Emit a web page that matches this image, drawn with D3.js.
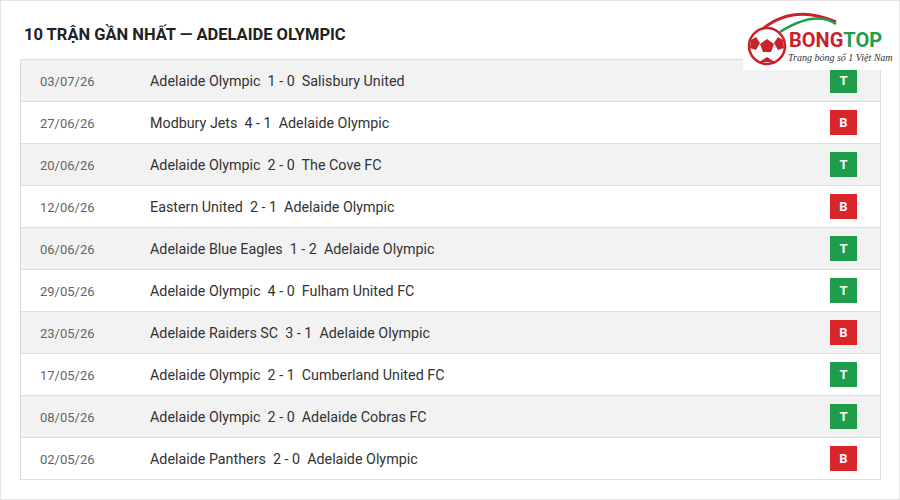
<!DOCTYPE html>
<html><head><meta charset="utf-8">
<script src="https://cdn.jsdelivr.net/npm/d3@7"></script>
<style>body{margin:0;background:#fff}svg{display:block}</style></head>
<body><script>
const dates=["03/07/26","27/06/26","20/06/26","12/06/26","06/06/26","29/05/26","23/05/26","17/05/26","08/05/26","02/05/26"];
const homeTeams=["Adelaide Olympic","Modbury Jets","Adelaide Olympic","Eastern United","Adelaide Blue Eagles","Adelaide Olympic","Adelaide Raiders SC","Adelaide Olympic","Adelaide Olympic","Adelaide Panthers"];
const scores=["1 - 0","4 - 1","2 - 0","2 - 1","1 - 2","4 - 0","3 - 1","2 - 1","2 - 0","2 - 0"];
const awayTeams=["Salisbury United","Adelaide Olympic","The Cove FC","Adelaide Olympic","Adelaide Olympic","Fulham United FC","Adelaide Olympic","Cumberland United FC","Adelaide Cobras FC","Adelaide Olympic"];
const results=["T","B","T","B","T","T","B","T","T","B"];

const W=900,H=500;
const svg=d3.select("body").append("svg").attr("width",W).attr("height",H).style("font-family","Roboto, sans-serif");
svg.append("rect").attr("x",0.5).attr("y",0.5).attr("width",W-1).attr("height",H-1).attr("fill","#fff").attr("stroke","#e3e3e3");
svg.append("text").attr("x",24).attr("y",40).attr("font-size",16.5).attr("font-weight","bold").attr("fill","#222").text("10 TRẬN GẦN NHẤT — ADELAIDE OLYMPIC");

const y=d3.scaleBand().domain(d3.range(dates.length)).range([59,479]);
const g=svg.append("g");
const rows=g.selectAll("g.r").data(dates.map((d,i)=>i)).join("g").attr("transform",i=>`translate(0,${y(i)})`);
rows.append("rect").attr("x",20.5).attr("y",0.5).attr("width",860).attr("height",y.bandwidth())
 .attr("fill",i=>i%2===0?"#f2f2f2":"#fff").attr("stroke","#dcdcdc");
const cy=y.bandwidth()/2;
rows.append("text").attr("x",40).attr("y",cy+5.5).attr("font-size",13).attr("fill","#666").text(i=>dates[i]);
rows.append("text").attr("x",150).attr("y",cy+5.5).attr("font-size",14.3).attr("fill","#333").attr("xml:space","preserve")
 .text(i=>`${homeTeams[i]}  ${scores[i]}  ${awayTeams[i]}`);
rows.append("rect").attr("x",830).attr("y",cy-12).attr("width",27).attr("height",25)
 .attr("fill",i=>results[i]==="T"?"#1e9e4a":"#d9262a");
rows.append("text").attr("x",843.5).attr("y",cy+5).attr("text-anchor","middle").attr("font-size",13).attr("font-weight","bold").attr("fill","#fff").text(i=>results[i]);

// logo
const L=svg.append("g");
L.append("rect").attr("x",743).attr("y",4).attr("width",147).attr("height",66).attr("fill","#fff");
L.append("path").attr("d","M757,34 Q790,2 836,22").attr("fill","none").attr("stroke","#c8232a").attr("stroke-width",3);
L.append("path").attr("d","M780,32 Q815,10 836,24").attr("fill","none").attr("stroke","#1e9e4a").attr("stroke-width",2.5);
L.append("circle").attr("cx",767).attr("cy",46).attr("r",18).attr("fill","#fff").attr("stroke","#c8232a").attr("stroke-width",2.5);
L.append("path").attr("d","M767,39 l7,5 -3,8 -8,0 -3,-8z").attr("fill","#c8232a");
L.append("path").attr("d","M751,40 l5,-3 4,6 -4,7 -6,-2z M783,40 l-5,-3 -4,6 4,7 6,-2z M759,62 l8,-5 8,5").attr("fill","#c8232a");
L.append("text").attr("x",789).attr("y",47).attr("font-size",20).attr("font-weight","bold").attr("fill","#c8232a").text("BONG")
 .append("tspan").attr("fill","#1e9e4a").text("TOP");
L.append("text").attr("x",788).attr("y",61).attr("font-size",10).attr("font-style","italic").attr("font-family","Liberation Serif, serif").attr("fill","#333").text("Trang bóng số 1 Việt Nam");
</script></body></html>
